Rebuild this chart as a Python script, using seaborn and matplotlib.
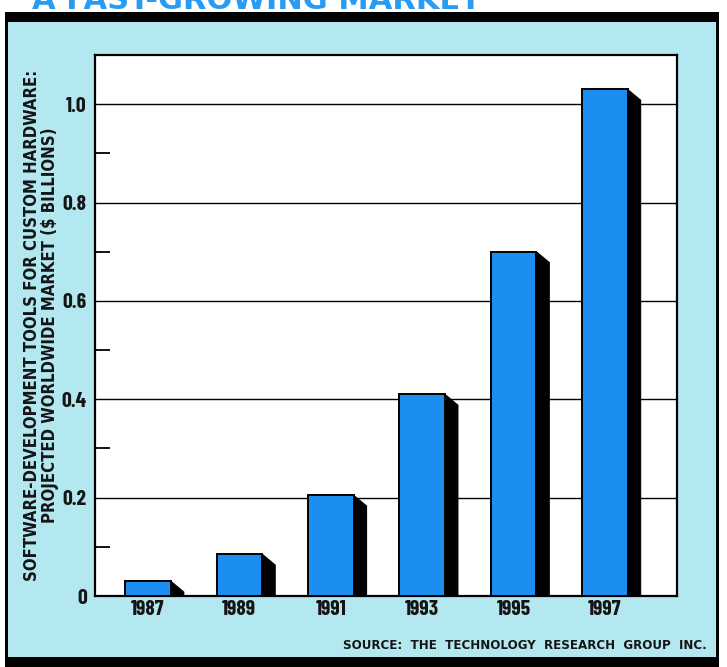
import matplotlib
matplotlib.use("Agg")
import matplotlib.pyplot as plt
from matplotlib.patches import Rectangle, Polygon
from matplotlib.ticker import FixedLocator
import seaborn as sns
import pandas as pd

# Projected worldwide market, $ billions
years = ["1987", "1989", "1991", "1993", "1995", "1997"]
market = [0.03, 0.085, 0.205, 0.41, 0.70, 1.03]
y_ticks = [0, 0.2, 0.4, 0.6, 0.8, 1.0]
y_tick_labels = ["0", "0.2", "0.4", "0.6", "0.8", "1.0"]
y_minor = [0.1, 0.3, 0.5, 0.7, 0.9]

title = "A FAST-GROWING MARKET"
y_title = "SOFTWARE-DEVELOPMENT TOOLS FOR CUSTOM HARDWARE:\nPROJECTED WORLDWIDE MARKET ($ BILLIONS)"
source = "SOURCE:  THE  TECHNOLOGY  RESEARCH  GROUP  INC."

BAR_BLUE = "#1b8ef0"
PANEL_BLUE = "#b3e8f1"
TICK_FONT = ["Barlow Condensed", "DejaVu Sans"]

sns.set_theme(style="white")
plt.rcParams["font.family"] = ["DejaVu Sans"]

W, H = 727, 667
fig = plt.figure(figsize=(W / 100, H / 100), dpi=100, facecolor="white")

def px_rect(x0, y0, x1, y1, color, z=0):
    fig.patches.append(Rectangle((x0 / W, 1 - y1 / H), (x1 - x0) / W, (y1 - y0) / H,
                                 transform=fig.transFigure, facecolor=color,
                                 edgecolor="none", zorder=z))

# framed light-blue panel
px_rect(5, 12, 719, 667, "black", z=0)
px_rect(8, 22, 716, 657, PANEL_BLUE, z=1)

# headline, running off the top edge
fig.text(32 / W, 1 - 9 / H, title, ha="left", va="baseline", fontsize=22,
         fontweight="bold", color="#2a9bf2", family=["DejaVu Sans"])

ax = fig.add_axes([95 / W, 1 - 596 / H, (677 - 95) / W, (596 - 55) / H])
ax.set_facecolor("white")
ax.set_zorder(2)

df = pd.DataFrame({"year": years, "market": market})
sns.barplot(data=df, x="year", y="market", color=BAR_BLUE, saturation=1,
            width=0.5, edgecolor="black", linewidth=1.4, ax=ax, zorder=4)

ax.set_xlim(-0.58, 5.79)
ax.set_ylim(0, 1.10)

# black extruded side on each bar
dx, dy = 0.142, 0.022
for p in list(ax.patches):
    x0, w, h = p.get_x(), p.get_width(), p.get_height()
    xr = x0 + w
    if h > dy:
        pts = [(xr, h), (xr + dx, h - dy), (xr + dx, 0), (xr, 0)]
    else:
        pts = [(xr, h), (xr + dx * h / dy, 0), (xr, 0)]
    ax.add_patch(Polygon(pts, closed=True, facecolor="black", edgecolor="black",
                         linewidth=0.8, zorder=3))

ax.set_yticks(y_ticks)
ax.set_yticklabels(y_tick_labels)
ax.yaxis.set_minor_locator(FixedLocator(y_minor))
ax.tick_params(axis="y", which="major", length=0, pad=6)
ax.tick_params(axis="y", which="minor", direction="in", length=11, width=1.3,
               color="black", left=True)
ax.tick_params(axis="x", length=0, pad=3)
for lab in ax.get_xticklabels() + ax.get_yticklabels():
    lab.set_family(TICK_FONT)
    lab.set_fontweight("bold")
    lab.set_fontsize(15.5)
    lab.set_color("#151515")

ax.grid(axis="y", which="major", color="black", linewidth=1.0)
ax.grid(axis="x", visible=False)
ax.set_axisbelow(True)
for s in ax.spines.values():
    s.set_visible(True)
    s.set_color("black")
    s.set_linewidth(1.6)

ax.set_xlabel("")
ax.set_ylabel("")
fig.text(41 / W, 1 - 325 / H, y_title, rotation=90, ha="center", va="center",
         multialignment="center", fontsize=12, fontweight="bold",
         fontstretch="condensed", family=["DejaVu Sans"],
         color="#151515", linespacing=0.95, zorder=5)

fig.text(707 / W, 1 - 649 / H, source, ha="right", va="baseline", fontsize=8.6,
         fontweight="bold", color="#151515", family=["DejaVu Sans"], zorder=5)

fig.savefig("out.png", dpi=100, facecolor="white")
